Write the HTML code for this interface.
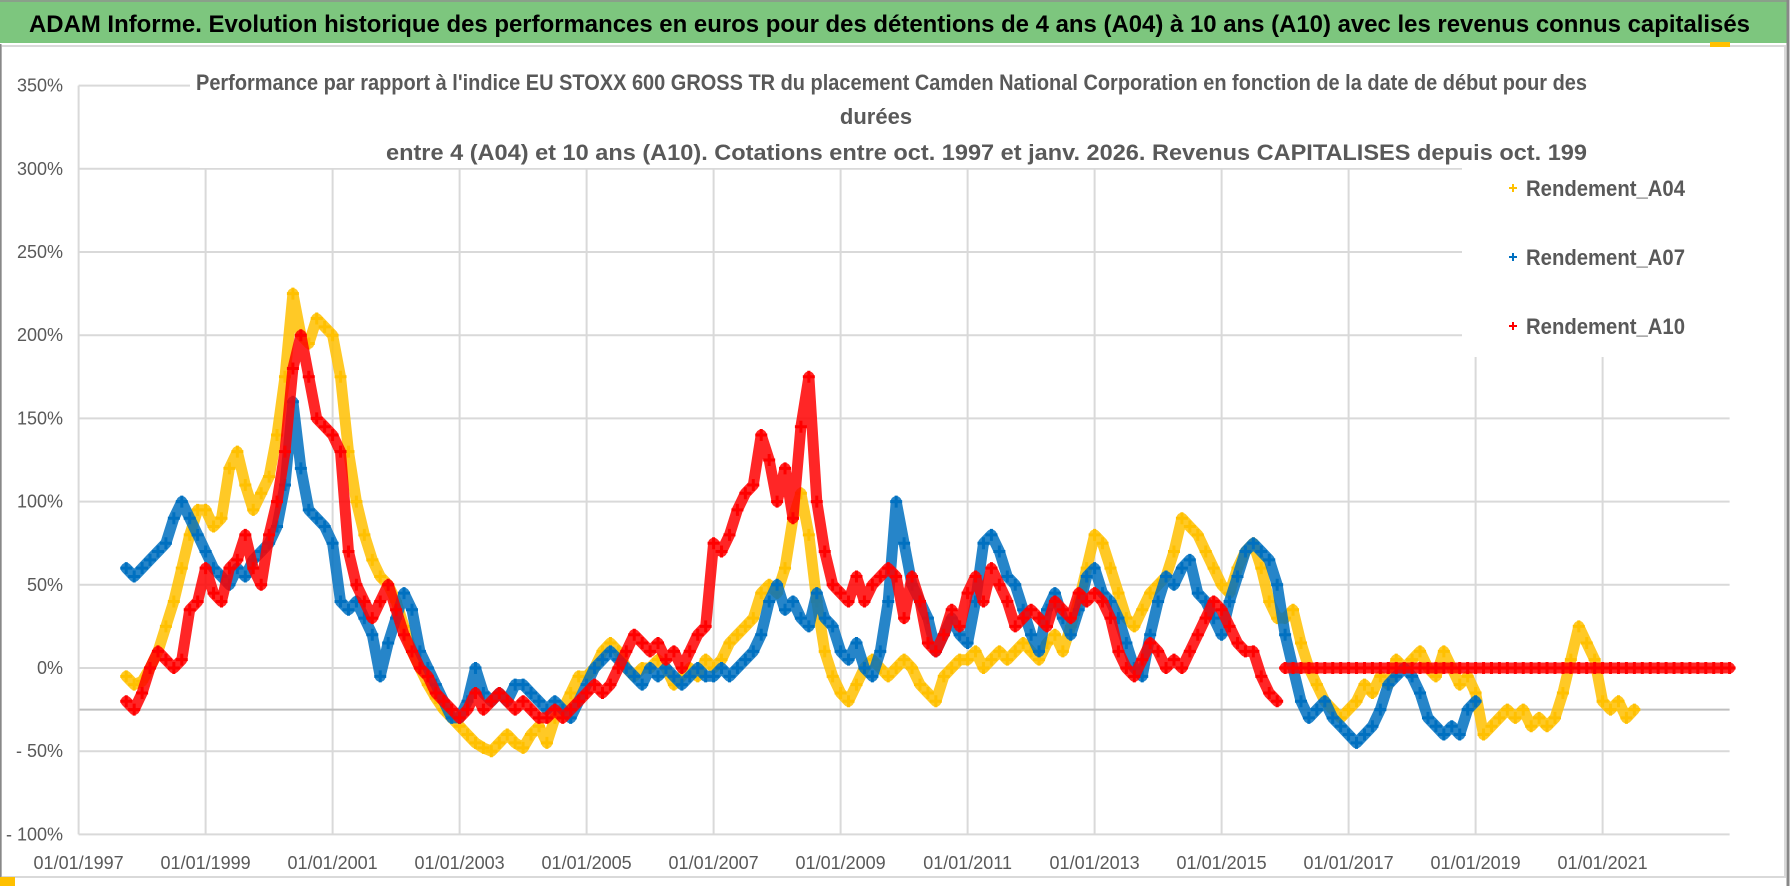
<!DOCTYPE html>
<html><head><meta charset="utf-8"><style>
html,body{margin:0;padding:0;background:#fff;}
svg{display:block;font-family:"Liberation Sans",sans-serif;}
</style></head><body>
<svg id="chart" width="1790" height="886" viewBox="0 0 1790 886">
<rect x="0" y="0" width="1790" height="886" fill="#ffffff"/>
<rect x="0" y="0" width="1788" height="43" fill="#7dc67e"/>
<line x1="0" y1="1" x2="1788" y2="1" stroke="#8aa08a" stroke-width="2"/>
<text x="29" y="32" font-size="24" font-weight="bold" fill="#000" textLength="1721" lengthAdjust="spacingAndGlyphs">ADAM Informe. Evolution historique des performances en euros pour des détentions de 4 ans (A04) à 10 ans (A10) avec les revenus connus capitalisés</text>
<rect x="1" y="46" width="1784" height="831" fill="#fff" stroke="#d9d9d9" stroke-width="2"/>
<line x1="0" y1="44" x2="0" y2="886" stroke="#888" stroke-width="3"/>
<line x1="1788" y1="0" x2="1788" y2="886" stroke="#888" stroke-width="3"/>
<rect x="0" y="877" width="15" height="9" fill="#ffc000"/>
<rect x="1710" y="42" width="20" height="5" fill="#ffc000"/>
<g id="grid"></g>
<g id="axes"></g>
<g id="series"></g>
<rect x="190" y="72" width="1405" height="96" fill="#fff"/>
<g fill="#595959" font-weight="bold" font-size="22">
<text x="196" y="90" textLength="1391" lengthAdjust="spacingAndGlyphs">Performance par rapport à l'indice EU STOXX 600 GROSS TR  du placement Camden National Corporation en fonction de la date de début pour des</text>
<text x="876" y="124" text-anchor="middle">durées</text>
<text x="386" y="160" textLength="1201" lengthAdjust="spacingAndGlyphs">entre 4 (A04) et 10 ans (A10). Cotations entre oct. 1997 et janv. 2026. Revenus CAPITALISES depuis oct. 199</text>
</g>
<rect x="1462" y="163" width="268" height="194" fill="#fff"/>
<g id="legend"></g>
<script>
var yTicks = [350,300,250,200,150,100,50,0,-50,-100];
var yTickLabels = ["350%","300%","250%","200%","150%","100%","50%","0%","- 50%","- 100%"];
var xTicks = [1997,1999,2001,2003,2005,2007,2009,2011,2013,2015,2017,2019,2021];
var xTickLabels = ["01/01/1997","01/01/1999","01/01/2001","01/01/2003","01/01/2005","01/01/2007","01/01/2009","01/01/2011","01/01/2013","01/01/2015","01/01/2017","01/01/2019","01/01/2021"];
var seriesNames = ["Rendement_A04","Rendement_A07","Rendement_A10"];
var stepYears = 0.125;
var a04Start = 1997.75;
var a04 = [-5,-10,
-8,0,10,25,40,60,80,95,
95,85,90,120,130,110,95,105,
115,140,175,225,200,195,210,205,
200,175,130,100,80,65,55,50,
40,25,10,0,-10,-18,-25,-30,
-35,-40,-45,-48,-50,-45,-40,-45,
-48,-40,-35,-45,-30,-25,-15,-5,
-5,0,10,15,10,0,-5,0,
0,5,0,-10,-5,0,-5,5,
0,5,15,20,25,30,45,50,
45,60,90,105,80,40,10,-5,
-15,-20,-10,0,5,0,-5,0,
5,0,-10,-15,-20,-5,0,5,
5,10,0,5,10,5,10,15,
10,5,15,20,10,25,40,60,
80,75,60,45,30,25,35,45,
50,55,70,90,85,80,70,60,
50,45,60,70,75,60,40,30,
30,35,15,0,-10,-20,-25,-30,
-25,-20,-10,-15,-5,-10,5,0,
5,10,0,-5,10,0,-10,-5,
-15,-40,-35,-30,-25,-30,-25,-35,
-30,-35,-30,-15,5,25,15,5,
-20,-25,-20,-30,-25];
var a07Start = 1997.75;
var a07 = [60,55,
60,65,70,75,90,100,90,80,
70,60,55,50,60,55,65,70,
75,85,110,160,120,95,90,85,
75,40,35,40,30,20,-5,15,
30,45,35,10,0,-10,-20,-30,
-30,-20,0,-15,-20,-15,-20,-10,
-10,-15,-20,-25,-20,-25,-30,-20,
-10,0,5,10,5,0,-5,-10,
0,-5,0,-5,-10,-5,0,-5,
-5,0,-5,0,5,10,20,40,
50,35,40,30,25,45,30,25,
10,5,15,0,-5,10,40,100,
75,50,40,30,10,20,30,20,
15,40,75,80,70,55,50,35,
20,10,35,45,30,20,35,55,
60,45,40,30,15,0,-5,20,
40,55,50,60,65,45,40,30,
20,40,55,70,75,70,65,50,
20,0,-20,-30,-25,-20,-30,-35,
-40,-45,-40,-35,-25,-10,-5,0,
-5,-15,-30,-35,-40,-35,-40,-25,
-20];
var a10Start = 1997.75;
var a10 = [-20,-25,
-15,0,10,5,0,5,35,40,
60,45,40,60,65,80,60,50,
80,100,130,180,200,175,150,145,
140,130,70,50,40,30,40,50,
35,20,10,0,-5,-15,-20,-25,
-30,-25,-15,-25,-20,-15,-20,-25,
-20,-25,-30,-30,-25,-30,-25,-20,
-15,-10,-15,-10,0,10,20,15,
10,15,5,10,0,10,20,25,
75,70,80,95,105,110,140,125,
100,120,90,145,175,100,70,50,
45,40,55,40,50,55,60,55,
30,55,40,15,10,20,35,25,
45,55,40,60,50,40,25,30,
35,30,25,40,35,30,45,40,
45,40,30,10,0,-5,5,15,
10,0,5,0,10,20,30,40,
35,25,15,10,10,-5,-15,-20];
var a10FlatStart = 2016.0;
var a10Flat = [0,0,0,0,0,0,0,0,0,0,0,0,0,0,0,0,0,0,0,0,0,0,0,0,0,0,0,0,0,0,0,0,0,0,0,0,0,0,0,0,0,0,0,0,0,0,0,0,0,0,0,0,0,0,0,0,0];

var NS="http://www.w3.org/2000/svg";
var X0=78.6, PXY=63.5, Y0=668, PXV=1.664;
function xs(yr){return X0+(yr-1997)*PXY;}
function ys(v){return Y0-v*PXV;}
function mk(tag,attrs,parent){var e=document.createElementNS(NS,tag);for(var k in attrs)e.setAttribute(k,attrs[k]);parent.appendChild(e);return e;}
var grid=document.getElementById('grid'), axes=document.getElementById('axes'), ser=document.getElementById('series'), leg=document.getElementById('legend');
var plotR=xs(2023);
yTicks.forEach(function(v,i){
  var y=ys(v);
  if(v!==-100){
    var gl=mk('line',{x1:X0,x2:(v===350?190:plotR),y1:y,y2:y,stroke:'#d9d9d9','stroke-width':2},grid);
    
    
  }
  var t=mk('text',{x:63,y:y+6,'text-anchor':'end','font-size':18,fill:'#595959'},axes);
  t.textContent=yTickLabels[i];
  
  
});
xTicks.forEach(function(yr,i){
  var x=xs(yr);
  if(i>0){
    var gl=mk('line',{x1:x,x2:x,y1:ys(300),y2:ys(-100),stroke:'#d9d9d9','stroke-width':2},grid);
    
    
  }
  var t=mk('text',{x:x,y:869,'text-anchor':'middle','font-size':18,fill:'#595959'},axes);
  t.textContent=xTickLabels[i];
  
  
});
var ref=mk('line',{x1:X0,x2:plotR,y1:ys(-25),y2:ys(-25),stroke:'#bfbfbf','stroke-width':2},grid);


var ya=mk('line',{x1:X0,x2:X0,y1:ys(350),y2:ys(-100),stroke:'#d9d9d9','stroke-width':2},axes);


var xa=mk('line',{x1:X0,x2:plotR,y1:ys(-100),y2:ys(-100),stroke:'#d9d9d9','stroke-width':2},axes);



function drawSeries(vals,start,color,name){
  var g=mk('g',{},ser);
  
  
  var d='';
  vals.forEach(function(v,i){var x=xs(start+i*stepYears),y=ys(v);d+=(i?'L':'M')+x.toFixed(1)+' '+y.toFixed(1);});
  var band=mk('path',{d:d,fill:'none',stroke:color,'stroke-width':11,'stroke-linejoin':'round','stroke-linecap':'round','stroke-opacity':0.85},g);
  
  
  vals.forEach(function(v,i){
    var x=xs(start+i*stepYears),y=ys(v);
    var p=mk('path',{d:'M'+(x-6)+' '+y+'H'+(x+6)+'M'+x+' '+(y-6)+'V'+(y+6),stroke:color,'stroke-width':3},g);
    
    
  });
}
drawSeries(a04,a04Start,'#ffc000','series-a04');
drawSeries(a07,a07Start,'#0070c0','series-a07');
drawSeries(a10,a10Start,'#ff0000','series-a10');
drawSeries(a10Flat,a10FlatStart,'#ff0000','series-a10-flat');

var legColors=['#ffc000','#0070c0','#ff0000'];
var legY=[188,257,326];
seriesNames.forEach(function(n,i){
  var g=mk('g',{},leg);
  
  
  mk('path',{d:'M1509 '+legY[i]+'H1517M1513 '+(legY[i]-4)+'V'+(legY[i]+4),stroke:legColors[i],'stroke-width':2},g);
  var t=mk('text',{x:1526,y:legY[i]+8,'font-size':22,'font-weight':'bold',fill:'#595959',textLength:159,lengthAdjust:'spacingAndGlyphs'},g);
  t.textContent=n;
});
</script>
</svg>
</body></html>
